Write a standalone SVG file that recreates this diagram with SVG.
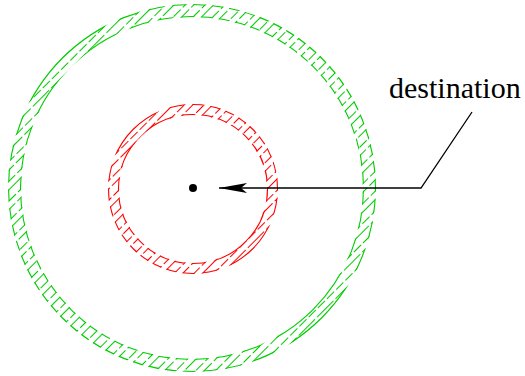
<svg xmlns="http://www.w3.org/2000/svg" width="525" height="376" viewBox="0 0 525 376">
<style>
.lbl{font-family:"Liberation Serif","Times New Roman",serif;font-size:30px;fill:#000}
.conn{fill:none;stroke:#000;stroke-width:1.3}
</style>
<defs>
<pattern id="edgesW" patternUnits="userSpaceOnUse" width="52" height="14" patternTransform="rotate(-45)">
<line x1="0" y1="0.5" x2="52" y2="0.5" stroke="#fff" stroke-width="1.1" stroke-dasharray="23 3"/>
<line x1="0" y1="8.5" x2="52" y2="8.5" stroke="#fff" stroke-width="1.1" stroke-dasharray="10 3" stroke-dashoffset="6"/>
</pattern>
<pattern id="bandW" patternUnits="userSpaceOnUse" width="40" height="14" patternTransform="rotate(-45)">
<rect x="0" y="0" width="40" height="9" fill="#fff"/>
</pattern>
<mask id="mGreen" maskUnits="userSpaceOnUse" x="0" y="0" width="525" height="376">
<path fill="url(#edgesW)" fill-rule="evenodd" d="M8,188a184,184 0 1,0 368,0a184,184 0 1,0 -368,0ZM21,188a171,171 0 1,0 342,0a171,171 0 1,0 -342,0Z"/>
<circle cx="192" cy="188" r="183.5" fill="none" stroke="url(#bandW)" stroke-width="1.1"/>
<circle cx="192" cy="188" r="171.5" fill="none" stroke="url(#bandW)" stroke-width="1.1"/>
</mask>
<mask id="mRed" maskUnits="userSpaceOnUse" x="0" y="0" width="525" height="376">
<path fill="url(#edgesW)" fill-rule="evenodd" d="M108,189a85,85 0 1,0 170,0a85,85 0 1,0 -170,0ZM119,189a74,74 0 1,0 148,0a74,74 0 1,0 -148,0Z"/>
<circle cx="193" cy="189" r="84.5" fill="none" stroke="url(#bandW)" stroke-width="1.1"/>
<circle cx="193" cy="189" r="74.5" fill="none" stroke="url(#bandW)" stroke-width="1.1"/>
</mask>
<marker id="arrow" markerUnits="userSpaceOnUse" markerWidth="28" markerHeight="10" viewBox="0 0 28 10" refX="28" refY="5" orient="auto">
<path d="M0,0L28,5L0,10L6,5Z" fill="#000"/>
</marker>
</defs>
<g id="outer-ring">
<rect x="0" y="0" width="525" height="376" fill="#00cc00" mask="url(#mGreen)"/>
</g>
<g id="inner-ring">
<rect x="0" y="0" width="525" height="376" fill="#ff0000" mask="url(#mRed)"/>
</g>
<g id="destination-point">
<circle cx="193" cy="188" r="4" fill="#000"/>
</g>
<g id="destination-label">
<text class="lbl" x="389" y="98">destination</text>
</g>
<g id="connectors">
<polyline class="conn" points="472,112 421,188 219,188" marker-end="url(#arrow)"/>
</g>
</svg>
